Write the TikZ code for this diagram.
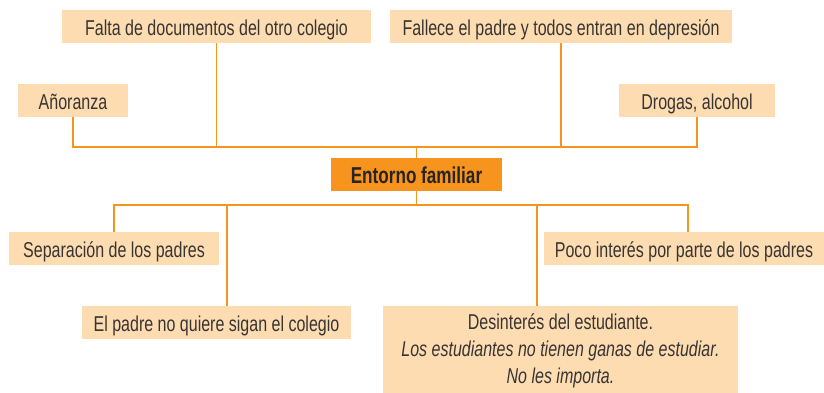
\documentclass[tikz,border=0pt]{standalone}
\usepackage{fontspec}
\setmainfont{Liberation Sans}[FakeStretch=0.745]
\definecolor{peach}{RGB}{253,220,178}
\definecolor{orng}{RGB}{247,148,29}
\definecolor{txt}{RGB}{55,52,50}
\tikzset{
  cbox/.style={fill=peach, inner sep=0pt, minimum height=33pt, text height=17pt, text depth=0pt,
    font=\fontsize{21.5}{27}\selectfont, text=txt},
  cmain/.style={fill=orng, inner sep=0pt, minimum height=33pt, text height=17pt, text depth=0pt,
    font=\fontsize{23}{27}\selectfont\bfseries, text=txt!70!black},
  tallbox/.style={fill=peach, inner xsep=0pt, inner ysep=7pt, align=center,
    font=\fontsize{21.5}{27}\selectfont, text=txt},
  conn/.style={draw=orng, line width=1.7pt}
}
\begin{document}
\begin{tikzpicture}[x=1pt,y=-1pt]
\useasboundingbox (0,0) rectangle (824,392);
% boxes
\node[cbox, minimum width=309pt] (falta) at (216.5,26.5) {Falta de documentos del otro colegio};
\node[cbox, minimum width=342pt] (fallece) at (561,26.5) {Fallece el padre y todos entran en depresión};
\node[cbox, minimum width=110pt] (anor) at (73,100.5) {Añoranza};
\node[cbox, minimum width=156pt] (drogas) at (697,100.5) {Drogas, alcohol};
\node[cmain, minimum width=171pt] (entorno) at (416.5,174.5) {Entorno familiar};
\node[cbox, minimum width=210pt] (sep) at (114,248.5) {Separación de los padres};
\node[cbox, minimum width=280pt] (poco) at (684,248.5) {Poco interés por parte de los padres};
\node[cbox, minimum width=269pt] (padre) at (216.5,322.5) {El padre no quiere sigan el colegio};
\node[tallbox, minimum width=355pt, anchor=north] (desint) at (560.5,306)
  {Desinterés del estudiante.\\ \itshape Los estudiantes no tienen ganas de estudiar.\\ \itshape No les importa.};
% buses
\coordinate (tb) at (416.5,147);
\coordinate (bb) at (416.5,205);
\draw[conn] (anor.south) |- (tb) -- (entorno.north);
\draw[conn] (falta.south) -- (falta.south |- tb);
\draw[conn] (fallece.south) -- (fallece.south |- tb);
\draw[conn] (drogas.south) |- (tb);
\draw[conn] (entorno.south) -- (bb);
\draw[conn] (bb) -| (sep.north);
\draw[conn] (bb) -| ([xshift=10.5pt]padre.north);
\draw[conn] (bb) -| ([xshift=-23.5pt]desint.north);
\draw[conn] (bb) -| ([xshift=4pt]poco.north);
\end{tikzpicture}
\end{document}
